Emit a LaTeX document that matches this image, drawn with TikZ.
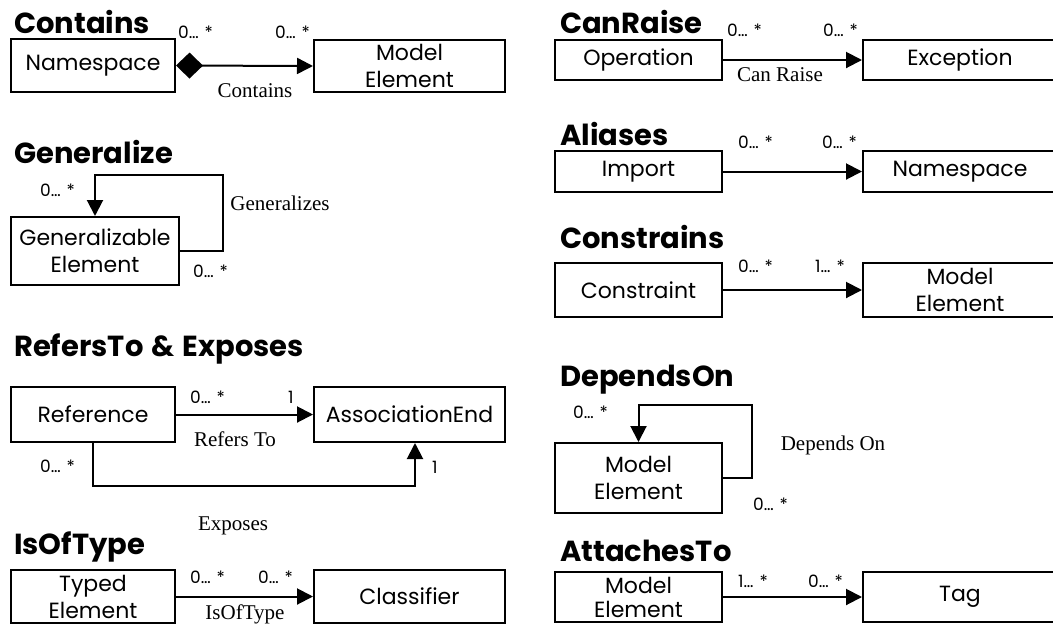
\documentclass[tikz,border=0pt]{standalone}
\usepackage{fontspec}
\setmainfont{Liberation Serif}
\newfontfamily\pop{Poppins}
\usetikzlibrary{arrows.meta,calc}
\newcommand\mymult[1]{#1…\hspace{6pt}*}
\begin{document}
\begin{tikzpicture}[x=1pt,y=-1pt,
 box/.style={draw,line width=2pt,inner sep=0pt,align=center,font=\pop\fontsize{22}{27}\selectfont},
 ttl/.style={anchor=base west,inner sep=0pt,font=\pop\bfseries\fontsize{29}{32}\selectfont},
 mult/.style={anchor=base west,inner sep=0pt,font=\pop\fontsize{17}{19}\selectfont},
 rel/.style={anchor=base,inner sep=0pt,font=\fontsize{21}{23}\selectfont},
 assoc/.style={line width=2pt,-{Triangle[length=16pt,width=16pt]}},
 comp/.style={line width=2pt,{Diamond[length=27pt,width=26pt]}-{Triangle[length=16pt,width=16pt]}},
]
\useasboundingbox (0,0) rectangle (1053,625);
% ---------------- left column ----------------
\node[ttl] (t1) at (14,33) {Contains};
\node[box,minimum width=164pt,minimum height=53pt] (ns1) at (93,65.5) {Namespace};
\node[box,minimum width=191pt,minimum height=52pt] (me1) at (409.5,66) {Model\\Element};
\draw[comp] (ns1.east) -- (me1.west);
\node[mult] (m1a) at (178,38) {\mymult{0}};
\node[mult] (m1b) at (275,38) {\mymult{0}};
\node[rel] (r1) at (255,97) {Contains};

\node[ttl] (t2) at (14,163) {Generalize};
\node[box,minimum width=168pt,minimum height=68pt] (ge) at (95,251) {Generalizable\\Element};
\draw[assoc] (ge.east) -- ++(43,0) |- ($(ge.north)+(0,-41)$) -- (ge.north);
\node[mult] (m2a) at (40,196) {\mymult{0}};
\node[mult] (m2b) at (193,277) {\mymult{0}};
\node[rel] (r2) at (280,210) {Generalizes};

\node[ttl] (t3) at (14,356) {RefersTo\hspace{8pt}\&\hspace{8pt}Exposes};
\node[box,minimum width=164pt,minimum height=55pt] (ref) at (93,414.5) {Reference};
\node[box,minimum width=191pt,minimum height=55pt] (ae) at (409.5,414.5) {AssociationEnd};
\draw[assoc] (ref.east) -- (ae.west);
\draw[assoc] (ref.south) -- ++(0,43) -| ($(ae.south)+(5.5,0)$);
\node[mult] (m3a) at (190,403) {\mymult{0}};
\node[mult] (m3b) at (288,403) {1};
\node[rel] (r3) at (235,446) {Refers To};
\node[mult] (m3c) at (40,472) {\mymult{0}};
\node[mult] (m3d) at (432,473) {1};
\node[rel] (r3b) at (233,530) {Exposes};

\node[ttl] (t4) at (14,554) {IsOfType};
\node[box,minimum width=164pt,minimum height=53pt] (te) at (93,596.5) {Typed\\Element};
\node[box,minimum width=191pt,minimum height=53pt] (cl) at (409.5,596.5) {Classifier};
\draw[assoc] (te.east) -- (cl.west);
\node[mult] (m4a) at (190,583) {\mymult{0}};
\node[mult] (m4b) at (258,583) {\mymult{0}};
\node[rel] (r4) at (245,619) {IsOfType};
% ---------------- right column ----------------
\node[ttl] (t5) at (560,33) {CanRaise};
\node[box,minimum width=167pt,minimum height=40pt] (op) at (638.5,60) {Operation};
\node[box,minimum width=194pt,minimum height=40pt] (ex) at (960,60) {Exception};
\draw[assoc] (op.east) -- (ex.west);
\node[mult] (m5a) at (727,36) {\mymult{0}};
\node[mult] (m5b) at (823,36) {\mymult{0}};
\node[rel] (r5) at (780,81) {Can Raise};

\node[ttl] (t6) at (560,145) {Aliases};
\node[box,minimum width=167pt,minimum height=41pt] (im) at (638.5,171.5) {Import};
\node[box,minimum width=194pt,minimum height=41pt] (ns2) at (960,171.5) {Namespace};
\draw[assoc] (im.east) -- (ns2.west);
\node[mult] (m6a) at (738,148) {\mymult{0}};
\node[mult] (m6b) at (822,148) {\mymult{0}};

\node[ttl] (t7) at (560,248) {Constrains};
\node[box,minimum width=167pt,minimum height=54pt] (co) at (638.5,290) {Constraint};
\node[box,minimum width=194pt,minimum height=54pt] (me2) at (960,290) {Model\\Element};
\draw[assoc] (co.east) -- (me2.west);
\node[mult] (m7a) at (738,272) {\mymult{0}};
\node[mult] (m7b) at (815,272) {\mymult{1}};

\node[ttl] (t8) at (560,386) {DependsOn};
\node[box,minimum width=167pt,minimum height=70pt] (me3) at (638.5,478) {Model\\Element};
\draw[assoc] (me3.east) -- ++(29,0) |- ($(me3.north)+(0,-37)$) -- (me3.north);
\node[mult] (m8a) at (573,418) {\mymult{0}};
\node[mult] (m8b) at (753,510) {\mymult{0}};
\node[rel] (r8) at (833,450) {Depends On};

\node[ttl] (t9) at (560,561) {AttachesTo};
\node[box,minimum width=167pt,minimum height=50pt,font=\pop\fontsize{22}{24}\selectfont] (me4) at (638.5,597) {Model\\Element};
\node[box,minimum width=194pt,minimum height=50pt] (tag) at (960,597) {Tag};
\draw[assoc] (me4.east) -- (tag.west);
\node[mult] (m9a) at (738,587) {\mymult{1}};
\node[mult] (m9b) at (808,587) {\mymult{0}};
\end{tikzpicture}
\end{document}
